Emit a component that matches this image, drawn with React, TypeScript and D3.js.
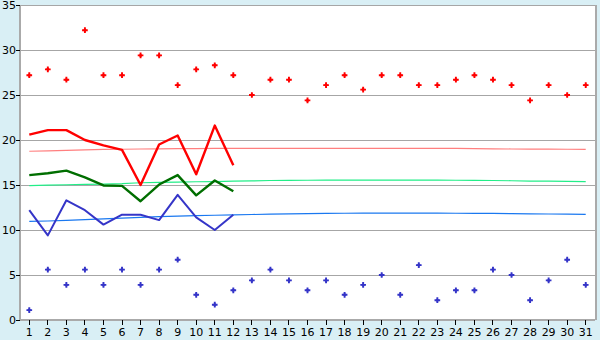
import React from "react";
import * as d3 from "d3";

const days = d3.range(1, 32);
const yTicks = [0, 5, 10, 15, 20, 25, 30, 35];

const maxScatter = [27.2, 27.85, 26.7, 32.2, 27.2, 27.2, 29.4, 29.4, 26.1, 27.85, 28.3, 27.2, 25.0, 26.7, 26.7, 24.4, 26.1, 27.2, 25.6, 27.2, 27.2, 26.1, 26.1, 26.7, 27.2, 26.7, 26.1, 24.4, 26.1, 25.0, 26.1];
const minScatter = [1.1, 5.6, 3.9, 5.6, 3.9, 5.6, 3.9, 5.6, 6.7, 2.8, 1.7, 3.3, 4.4, 5.6, 4.4, 3.3, 4.4, 2.8, 3.9, 5.0, 2.8, 6.1, 2.2, 3.3, 3.3, 5.6, 5.0, 2.2, 4.4, 6.7, 3.9];

const maxLine = [20.6, 21.1, 21.1, 20.0, 19.4, 18.9, 15.0, 19.5, 20.5, 16.2, 21.6, 17.2];
const meanLine = [16.1, 16.3, 16.6, 15.85, 14.95, 14.9, 13.2, 15.05, 16.1, 13.85, 15.5, 14.3];
const minLine = [12.2, 9.4, 13.3, 12.2, 10.6, 11.7, 11.7, 11.1, 13.9, 11.4, 10.0, 11.7];

const normMax = [18.75, 18.8, 18.85, 18.9, 18.95, 18.97, 19.0, 19.02, 19.04, 19.05, 19.06, 19.07, 19.08, 19.08, 19.08, 19.08, 19.08, 19.08, 19.08, 19.07, 19.07, 19.07, 19.06, 19.06, 19.05, 19.02, 19.0, 18.99, 18.98, 18.97, 18.96];
const normMean = [14.92, 14.98, 15.03, 15.06, 15.1, 15.15, 15.25, 15.3, 15.33, 15.36, 15.38, 15.42, 15.46, 15.5, 15.52, 15.53, 15.54, 15.55, 15.55, 15.55, 15.55, 15.55, 15.54, 15.53, 15.52, 15.5, 15.47, 15.44, 15.42, 15.4, 15.38];
const normMin = [10.95, 11.0, 11.08, 11.16, 11.24, 11.32, 11.4, 11.48, 11.55, 11.6, 11.64, 11.68, 11.72, 11.76, 11.79, 11.82, 11.84, 11.86, 11.87, 11.87, 11.87, 11.87, 11.87, 11.86, 11.85, 11.84, 11.82, 11.8, 11.78, 11.76, 11.74];

const W = 600, H = 340;
const L = 20, R = 595, T = 5, B = 320;

export default function App() {
  const x = d3.scaleBand<number>().domain(days).range([L, R]);
  const cx = (d: number) => (x(d) as number) + x.bandwidth() / 2;
  const y = d3.scaleLinear().domain([0, 35]).range([B, T]);
  const line = d3.line<number>().x((_, i) => cx(days[i])).y((v) => y(v));
  const cross = d3.symbol().type(d3.symbolCross).size(18)() as string;
  const diamond = d3.symbol().type(d3.symbolSquare).size(8)() as string;
  const font = "'DejaVu Sans', sans-serif";

  const marker = (key: string, px: number, py: number, color: string) => (
    <g key={key} transform={`translate(${px},${py})`} fill={color}>
      <path d={cross} />
      <path d={diamond} transform="rotate(45)" />
    </g>
  );

  return (
    <svg width={W} height={H} style={{ position: "absolute", left: 0, top: 0 }}>
      <rect x={0} y={0} width={W} height={H} fill="#d9eff5" />
      <rect x={L} y={T} width={R - L} height={B - T} fill="#ffffff" />
      {yTicks.slice(1).map((t) => (
        <line key={t} x1={L} x2={R} y1={y(t) + 0.5} y2={y(t) + 0.5} stroke="#a6a6a6" strokeWidth={1} shapeRendering="crispEdges" />
      ))}
      <line x1={R + 0.5} x2={R + 0.5} y1={T} y2={B} stroke="#aaaaaa" strokeWidth={2} shapeRendering="crispEdges" />
      <line x1={L} x2={L} y1={T} y2={B} stroke="#aaaaaa" strokeWidth={2} shapeRendering="crispEdges" />
      <line x1={L} x2={R} y1={B} y2={B} stroke="#aaaaaa" strokeWidth={2} shapeRendering="crispEdges" />
      {yTicks.map((t) => (
        <g key={t}>
          <line x1={L - 4} x2={L} y1={y(t)} y2={y(t)} stroke="#000" shapeRendering="crispEdges" />
          <text x={L - 4} y={y(t) + 4} textAnchor="end" fontSize={11} fontFamily={font} fill="#000">{t}</text>
        </g>
      ))}
      {days.map((d) => (
        <g key={d}>
          <line x1={cx(d)} x2={cx(d)} y1={B} y2={B + 5} stroke="#000" shapeRendering="crispEdges" />
          <text x={cx(d)} y={B + 16} textAnchor="middle" fontSize={11} fontFamily={font} fill="#000">{d}</text>
        </g>
      ))}
      <path d={line(normMax) as string} fill="none" stroke="#ff7f7f" strokeWidth={1.2} />
      <path d={line(normMean) as string} fill="none" stroke="#22ee88" strokeWidth={1.2} />
      <path d={line(normMin) as string} fill="none" stroke="#1a78f0" strokeWidth={1.2} />
      <path d={line(minLine) as string} fill="none" stroke="#3535c8" strokeWidth={2} strokeLinejoin="round" />
      <path d={line(meanLine) as string} fill="none" stroke="#006e00" strokeWidth={2.4} strokeLinejoin="round" />
      <path d={line(maxLine) as string} fill="none" stroke="#ff0000" strokeWidth={2.4} strokeLinejoin="round" />
      {maxScatter.map((v, i) => marker("mx" + i, cx(days[i]), y(v), "#ff0000"))}
      {minScatter.map((v, i) => marker("mn" + i, cx(days[i]), y(v), "#3535c8"))}
    </svg>
  );
}
